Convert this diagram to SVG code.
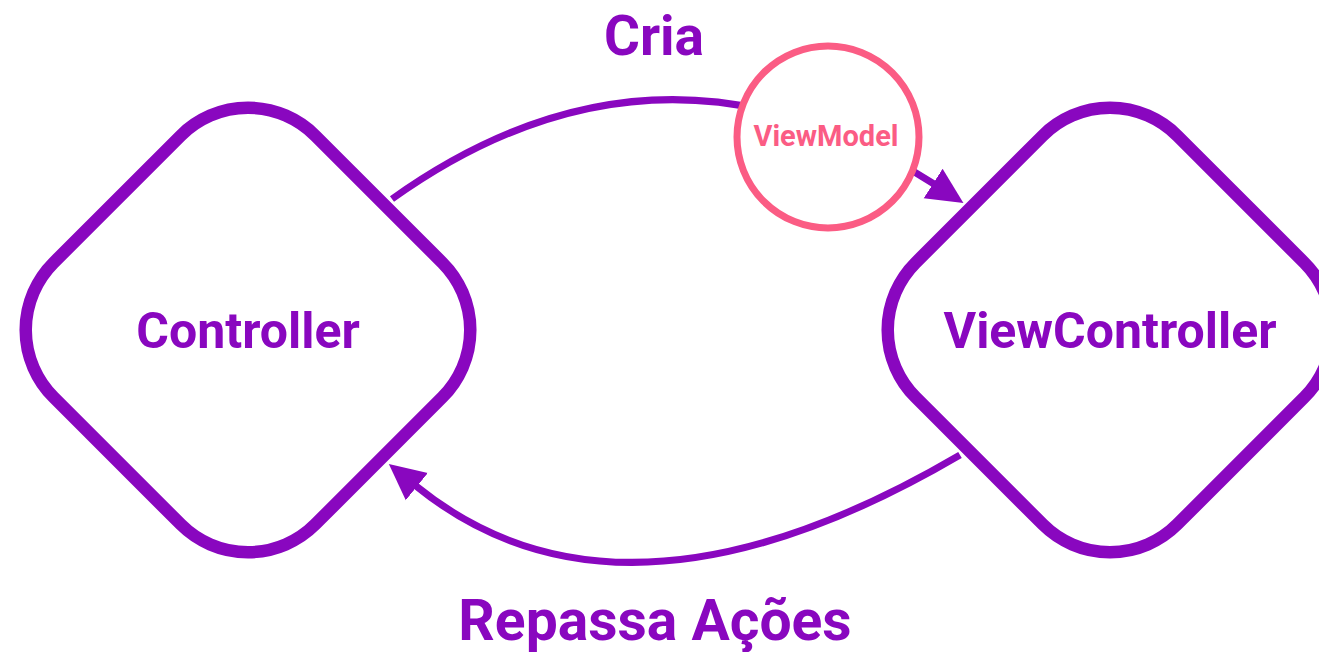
<svg xmlns="http://www.w3.org/2000/svg" width="1319" height="652" viewBox="0 0 1319 652">
  <style>
    .node { fill: #ffffff; stroke: #8907BF; stroke-width: 12.5; }
    .conn { fill: none; stroke: #8907BF; stroke-width: 7; }
    .lbl { font-family: Roboto, "Liberation Sans", sans-serif; font-weight: 700; fill: #8907BF; text-anchor: middle; }
    .vm { fill: #ffffff; stroke: #FB5C84; stroke-width: 7; }
    .vmt { font-family: Roboto, "Liberation Sans", sans-serif; font-weight: 700; fill: #FB5C84; text-anchor: middle; font-size: 29px; }
  </style>
  <defs>
    <marker id="arrow" markerUnits="userSpaceOnUse" markerWidth="36" markerHeight="36" viewBox="0 0 35 34" refX="1" refY="17" orient="auto">
      <path d="M0,0 L35,17 L0,34 z" fill="#8907BF"/>
    </marker>
  </defs>
  <rect width="1319" height="652" fill="#ffffff"/>
  <g id="controller">
    <rect class="node" x="-185" y="-185" width="370" height="370" rx="95" transform="translate(248,330) rotate(45)"/>
    <text class="lbl" x="248" y="348" font-size="50">Controller</text>
  </g>
  <g id="viewcontroller">
    <rect class="node" x="-185" y="-185" width="370" height="370" rx="95" transform="translate(1110,330) rotate(45)"/>
    <text class="lbl" x="1110" y="348" font-size="50">ViewController</text>
  </g>
  <g id="connectors">
    <path class="conn" d="M392,199 Q660,8 934,184" marker-end="url(#arrow)"/>
    <path class="conn" d="M960,455 Q622,653 416,486" marker-end="url(#arrow)"/>
    <text class="lbl" x="654" y="55" font-size="55">Cria</text>
    <text class="lbl" x="655" y="640" font-size="57">Repassa Ações</text>
  </g>
  <g id="viewmodel">
    <circle class="vm" cx="828" cy="137" r="91"/>
    <text class="vmt" x="826" y="146">ViewModel</text>
  </g>
</svg>
